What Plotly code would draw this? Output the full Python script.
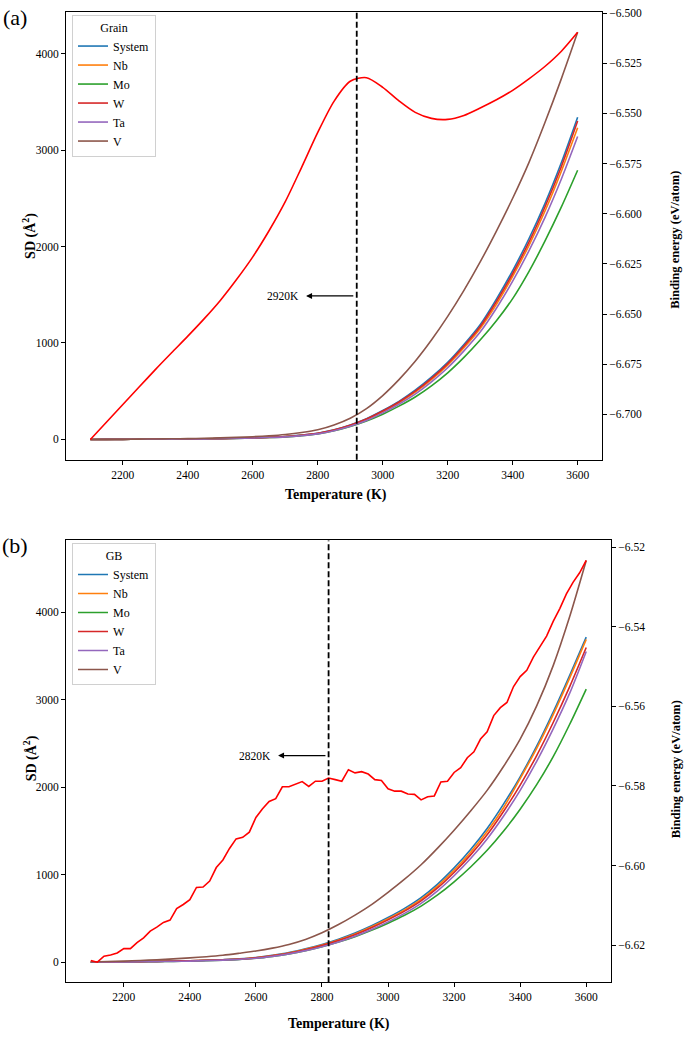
import plotly.graph_objects as go

# ---------------- data ----------------
T_sd = [2100, 2150, 2200, 2250, 2300, 2350, 2400, 2450, 2500, 2550, 2600, 2650, 2700, 2750, 2800,
        2850, 2900, 2950, 3000, 3050, 3100, 3150, 3200, 3250, 3300, 3350, 3400, 3450, 3500, 3550, 3600]

# (a) Grain : SD (A^2)
grain_system = [0, 0.5, 1, 2, 3, 4, 5, 7, 9, 12, 16, 22, 30, 45, 65, 100, 150, 215, 300, 395, 510, 645, 800, 985, 1190, 1455, 1750, 2080, 2450, 2870, 3340]
grain_nb = [0, 0.5, 1, 2, 3, 4, 5, 7, 9, 12, 16, 21, 29, 43, 62, 96, 144, 207, 288, 380, 490, 620, 770, 950, 1150, 1400, 1690, 2010, 2370, 2780, 3230]
grain_mo = [0, 0.5, 1, 1.5, 2.5, 3.5, 4.5, 6, 8, 11, 15, 20, 27, 40, 58, 90, 135, 192, 262, 345, 440, 555, 690, 850, 1030, 1230, 1460, 1740, 2060, 2410, 2790]
grain_w = [0, 0.5, 1, 2, 3, 4, 5, 7, 9, 12, 16, 22, 30, 44, 64, 98, 147, 211, 294, 388, 500, 633, 786, 968, 1170, 1430, 1720, 2045, 2415, 2830, 3300]
grain_ta = [0, 0.5, 1, 1.5, 2.5, 3.5, 4.5, 6, 8, 11, 15, 20, 27, 40, 58, 90, 136, 196, 275, 365, 470, 597, 743, 918, 1113, 1360, 1640, 1955, 2305, 2700, 3140]
grain_v = [0, 1, 2, 3, 5, 7, 9, 12, 16, 21, 28, 38, 52, 72, 100, 150, 220, 320, 455, 620, 810, 1030, 1275, 1545, 1840, 2160, 2500, 2870, 3290, 3740, 4220]

# (a) Grain : binding energy (eV/atom)
grain_be = [-6.7125, -6.7038, -6.6951, -6.6864, -6.6777, -6.6693, -6.6610, -6.6524, -6.6432, -6.6328,
            -6.6215, -6.6085, -6.5940, -6.5770, -6.5595, -6.5440, -6.5340, -6.5322, -6.5370, -6.5438,
            -6.5495, -6.5525, -6.5530, -6.5510, -6.5473, -6.5432, -6.5385, -6.5328, -6.5265, -6.5190, -6.5096]

# (b) GB : SD (A^2)
gb_system = [3, 5, 7, 9, 12, 15, 19, 24, 31, 40, 55, 80, 112, 155, 205, 265, 335, 418, 512, 617, 740, 895, 1080, 1290, 1530, 1810, 2120, 2470, 2860, 3280, 3715]
gb_nb = [3, 5, 7, 9, 12, 15, 19, 24, 30, 39, 53, 77, 108, 150, 198, 257, 325, 406, 498, 600, 720, 872, 1053, 1259, 1494, 1769, 2100, 2445, 2830, 3250, 3689]
gb_mo = [2, 4, 5, 7, 9, 12, 15, 20, 26, 34, 47, 69, 97, 134, 179, 232, 294, 366, 448, 538, 643, 770, 920, 1090, 1280, 1500, 1750, 2030, 2350, 2720, 3122]
gb_w = [3, 5, 7, 9, 12, 15, 19, 24, 30, 38, 52, 75, 104, 144, 192, 249, 316, 396, 486, 585, 703, 850, 1027, 1228, 1458, 1727, 2025, 2363, 2740, 3150, 3596]
gb_ta = [2, 4, 5, 7, 9, 12, 15, 20, 26, 34, 47, 69, 97, 134, 179, 234, 299, 376, 463, 560, 675, 818, 990, 1186, 1410, 1672, 1965, 2297, 2668, 3075, 3552]
gb_v = [5, 10, 15, 22, 30, 40, 52, 65, 82, 105, 130, 163, 205, 262, 338, 432, 540, 660, 800, 950, 1115, 1305, 1510, 1730, 1965, 2240, 2550, 2930, 3390, 3950, 4590]

# (b) GB : binding energy (eV/atom), 20 K steps
T_be_gb = [2100, 2120, 2140, 2160, 2180, 2200, 2220, 2240, 2260, 2280, 2300, 2320, 2340, 2360, 2380,
           2400, 2420, 2440, 2460, 2480, 2500, 2520, 2540, 2560, 2580, 2600, 2620, 2640, 2660, 2680,
           2700, 2720, 2740, 2760, 2780, 2800, 2820, 2840, 2860, 2880, 2900, 2920, 2940, 2960, 2980,
           3000, 3020, 3040, 3060, 3080, 3100, 3120, 3140, 3160, 3180, 3200, 3220, 3240, 3260, 3280,
           3300, 3320, 3340, 3360, 3380, 3400, 3420, 3440, 3460, 3480, 3500, 3520, 3540, 3560, 3580, 3600]
gb_be = [-6.6239, -6.6243, -6.6228, -6.6225, -6.6220, -6.6209, -6.6209, -6.6194, -6.6182, -6.6165,
         -6.6155, -6.6143, -6.6137, -6.6108, -6.6098, -6.6086, -6.6055, -6.6054, -6.6039, -6.6005,
         -6.5986, -6.5957, -6.5933, -6.5929, -6.5916, -6.5879, -6.5857, -6.5839, -6.5832, -6.5802,
         -6.5802, -6.5796, -6.5789, -6.5801, -6.5788, -6.5788, -6.5780, -6.5784, -6.5788, -6.5759,
         -6.5767, -6.5764, -6.5770, -6.5784, -6.5786, -6.5807, -6.5813, -6.5813, -6.5820, -6.5821,
         -6.5835, -6.5827, -6.5825, -6.5790, -6.5788, -6.5766, -6.5754, -6.5729, -6.5714, -6.5682,
         -6.5664, -6.5623, -6.5603, -6.5590, -6.5550, -6.5525, -6.5509, -6.5476, -6.5448, -6.5423,
         -6.5386, -6.5354, -6.5317, -6.5288, -6.5264, -6.5233]

names = ["System", "Nb", "Mo", "W", "Ta", "V"]
colors = ["#1f77b4", "#ff7f0e", "#2ca02c", "#d62728", "#9467bd", "#8c564b"]
grain_sd = [grain_system, grain_nb, grain_mo, grain_w, grain_ta, grain_v]
gb_sd = [gb_system, gb_nb, gb_mo, gb_w, gb_ta, gb_v]

x_ticks = [2200, 2400, 2600, 2800, 3000, 3200, 3400, 3600]
sd_ticks = [0, 1000, 2000, 3000, 4000]
be_ticks_a = [-6.700, -6.675, -6.650, -6.625, -6.600, -6.575, -6.550, -6.525, -6.500]
be_ticks_b = [-6.62, -6.60, -6.58, -6.56, -6.54, -6.52]
trans_a, trans_b = 2920, 2820

# ---------------- figure ----------------
W, H = 685, 1037
FONT = "Liberation Serif"

def px(xp):
    return xp / W

def py(yp):
    return 1 - yp / H

fig = go.Figure()

smooth = dict(shape="spline", smoothing=0.8)
for nm, c, v in zip(names, colors, grain_sd):
    fig.add_trace(go.Scatter(x=T_sd, y=v, name=nm, mode="lines", line=dict(color=c, width=1.6, **smooth),
                             xaxis="x", yaxis="y", legend="legend"))
fig.add_trace(go.Scatter(x=T_sd, y=grain_be, mode="lines",
                         line=dict(color="#ff0000", width=1.6, **smooth),
                         xaxis="x", yaxis="y2", showlegend=False))

for nm, c, v in zip(names, colors, gb_sd):
    fig.add_trace(go.Scatter(x=T_sd, y=v, name=nm, mode="lines", line=dict(color=c, width=1.6, **smooth),
                             xaxis="x2", yaxis="y3", legend="legend2"))
fig.add_trace(go.Scatter(x=T_be_gb, y=gb_be, mode="lines", line=dict(color="#ff0000", width=1.6),
                         xaxis="x2", yaxis="y4", showlegend=False))

tickfont = dict(family=FONT, size=11.5, color="black")
common_x = dict(range=[2025, 3675], tickvals=x_ticks, showline=True, mirror=True, linecolor="black",
                linewidth=1, ticks="outside", ticklen=4, tickcolor="black", showgrid=False,
                zeroline=False, tickfont=tickfont)
common_y = dict(showline=True, mirror=True, linecolor="black", linewidth=1, ticks="outside",
                ticklen=4, tickcolor="black", showgrid=False, zeroline=False, tickfont=tickfont)
right_y = dict(side="right", showline=False, ticks="outside", ticklen=4, tickcolor="black",
               showgrid=False, zeroline=False, tickfont=tickfont)

top_dom_x = [px(66), px(602)]
top_dom_y = [py(457), py(7)]
bot_dom_x = [px(66), px(611)]
bot_dom_y = [py(982), py(538)]

legend_common = dict(font=dict(family=FONT, size=12, color="black"), bgcolor="rgba(255,255,255,0.8)",
                     bordercolor="#d0d0d0", borderwidth=1, xanchor="left", yanchor="top",
                     tracegroupgap=0)

fig.update_layout(
    width=W, height=H, margin=dict(l=0, r=0, t=0, b=0), paper_bgcolor="white", plot_bgcolor="white",
    font=dict(family=FONT, color="black"),
    xaxis=dict(domain=top_dom_x, anchor="y", **common_x),
    yaxis=dict(domain=top_dom_y, anchor="x", range=[-211, 4431], tickvals=sd_ticks, **common_y),
    yaxis2=dict(overlaying="y", anchor="x", range=[-6.72265, -6.49945], tickvals=be_ticks_a,
                tickformat=".3f", **right_y),
    xaxis2=dict(domain=bot_dom_x, anchor="y3", **common_x),
    yaxis3=dict(domain=bot_dom_y, anchor="x2", range=[-227, 4820], tickvals=sd_ticks, **common_y),
    yaxis4=dict(overlaying="y3", anchor="x2", range=[-6.62935, -6.51825], tickvals=be_ticks_b,
                tickformat=".2f", **right_y),
    legend=dict(x=px(72), y=py(10), title=dict(text="Grain", side="top center",
                font=dict(family=FONT, size=12)), **legend_common),
    legend2=dict(x=px(72), y=py(541), title=dict(text="GB", side="top center",
                 font=dict(family=FONT, size=12)), **legend_common),
)

# dashed transition lines
dash = "6px,3px"
fig.add_shape(type="line", xref="x", yref="y domain", x0=trans_a, x1=trans_a, y0=0, y1=1,
              line=dict(color="black", width=1.8, dash=dash))
fig.add_shape(type="line", xref="x2", yref="y3 domain", x0=trans_b, x1=trans_b, y0=0, y1=1,
              line=dict(color="black", width=1.8, dash=dash))

# arrows + labels
fig.add_annotation(x=2764, y=1488, xref="x", yref="y", ax=trans_a - 6, ay=1488, axref="x", ayref="y",
                   text="", showarrow=True, arrowhead=2, arrowsize=1, arrowwidth=1.2, arrowcolor="black")
fig.add_annotation(x=2693, y=1488, xref="x", yref="y", text="2920K", showarrow=False,
                   font=dict(family=FONT, size=11.5, color="black"))
fig.add_annotation(x=2667, y=2362, xref="x2", yref="y3", ax=trans_b - 5, ay=2362, axref="x2", ayref="y3",
                   text="", showarrow=True, arrowhead=2, arrowsize=1, arrowwidth=1.2, arrowcolor="black")
fig.add_annotation(x=2597, y=2362, xref="x2", yref="y3", text="2820K", showarrow=False,
                   font=dict(family=FONT, size=11.5, color="black"))

# axis titles and panel labels as paper annotations
def ptxt(x, y, text, size=12, angle=0):
    fig.add_annotation(x=px(x), y=py(y), xref="paper", yref="paper", text=text, showarrow=False,
                       textangle=angle, xanchor="center", yanchor="middle",
                       font=dict(family=FONT, size=size, color="black"))

ptxt(30, 232, "<b>SD (Å<sup>2</sup>)</b>", 14, -90)
ptxt(675, 236, "<b>Binding energy (eV/atom)</b>", 12.5, -90)
ptxt(336, 492, "<b>Temperature (K)</b>", 14)
ptxt(30, 757, "<b>SD (Å<sup>2</sup>)</b>", 14, -90)
ptxt(676, 768, "<b>Binding energy (eV/atom)</b>", 12.5, -90)
ptxt(339, 1024, "<b>Temperature (K)</b>", 14)
ptxt(15, 13, "(a)", 22)
ptxt(15, 543, "(b)", 22)

fig.write_html("out.html", config={"displayModeBar": False},
               post_script="document.body.style.margin='0';document.body.style.padding='0';"
                           "document.body.style.overflow='hidden';")
